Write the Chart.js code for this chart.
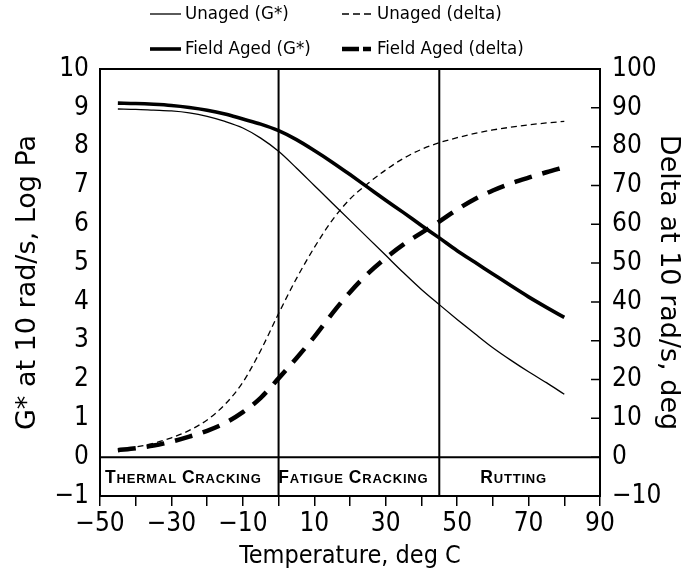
<!DOCTYPE html>
<html>
<head>
<meta charset="utf-8">
<script src="https://cdn.jsdelivr.net/npm/chart.js@4.4.1/dist/chart.umd.min.js"></script>
<style>
  html, body { margin: 0; padding: 0; background: #fff; }
  #wrap { width: 686px; height: 573px; }
</style>
</head>
<body>
<div id="wrap"><canvas id="c" width="686" height="573"></canvas></div>
<script>
// ---- data ----
const temperatures = [-45,-40,-35,-30,-25,-20,-15,-10,-5,0,5,10,15,20,25,30,35,40,45,50,55,60,65,70,75,80];
const unagedG     = [8.97,8.96,8.94,8.92,8.87,8.78,8.65,8.48,8.22,7.88,7.45,7.00,6.55,6.10,5.65,5.20,4.75,4.32,3.93,3.55,3.18,2.82,2.50,2.20,1.92,1.62];
const agedG       = [9.12,9.11,9.09,9.06,9.01,8.94,8.84,8.71,8.58,8.41,8.18,7.90,7.60,7.28,6.95,6.62,6.30,5.97,5.65,5.32,5.02,4.72,4.42,4.13,3.86,3.60];
const unagedDelta = [1.8,2.6,3.6,5.0,6.9,9.6,13.6,19.3,27.5,37,46,54,61,66.5,70.5,74,77,79.3,81,82.3,83.4,84.3,85,85.6,86.1,86.5];
const agedDelta   = [1.8,2.3,3.0,4.0,5.3,6.8,8.8,11.6,15.3,20.3,25.5,31,37,42.5,47.3,51.3,54.8,57.8,60.7,63.8,66.5,68.7,70.5,72,73.4,74.7];
const seriesNames = ['Unaged (G*)', 'Unaged (delta)', 'Field Aged (G*)', 'Field Aged (delta)'];
const regionBounds = [-50, 0, 45, 90];
const regionNames = ['Thermal Cracking', 'Fatigue Cracking', 'Rutting'];
const xTicksRange = [-50, 90];
const yLeftRange = [-1, 10];
const yRightRange = [-10, 100];

const NARROW = "'Liberation Sans Narrow', 'DejaVu Sans Condensed', 'Liberation Sans', sans-serif";
const WIDE = "'DejaVu Sans', 'Liberation Sans', sans-serif";

function pts(vals) { return temperatures.map((t, i) => ({ x: t, y: vals[i] })); }
function minus(v) { return v < 0 ? '\u2212' + Math.abs(v) : String(v); }

const datasets = [
  { label: seriesNames[0], data: pts(unagedG), yAxisID: 'y', borderColor: '#000', borderWidth: 1.3, legendDash: [] },
  { label: seriesNames[1], data: pts(unagedDelta), yAxisID: 'y2', borderColor: '#000', borderWidth: 1.3, borderDash: [6, 4], legendDash: [7, 4] },
  { label: seriesNames[2], data: pts(agedG), yAxisID: 'y', borderColor: '#000', borderWidth: 3.6, legendDash: [] },
  { label: seriesNames[3], data: pts(agedDelta), yAxisID: 'y2', borderColor: '#000', borderWidth: 4.5, borderDash: [18, 11], legendDash: [17, 4, 8, 40] }
].map(d => Object.assign({ pointRadius: 0, fill: false, cubicInterpolationMode: 'monotone', borderCapStyle: 'butt' }, d));

const overlay = {
  id: 'overlay',
  afterDraw(chart) {
    const { ctx, chartArea: a, scales } = chart;
    const x = scales.x, y = scales.y, y2 = scales.y2;
    ctx.save();
    ctx.strokeStyle = '#000';
    ctx.lineWidth = 2;
    ctx.beginPath();
    // top border of frame
    ctx.moveTo(a.left, a.top); ctx.lineTo(a.right, a.top);
    // region boundaries
    regionBounds.slice(1, -1).forEach(t => {
      const px = x.getPixelForValue(t);
      ctx.moveTo(px, a.top); ctx.lineTo(px, a.bottom);
    });
    // zero line
    const py0 = y.getPixelForValue(0);
    ctx.moveTo(a.left, py0); ctx.lineTo(a.right, py0);
    ctx.stroke();
    // inward ticks on the right axis
    ctx.lineWidth = 1.5;
    ctx.beginPath();
    y2.ticks.forEach(tk => {
      const p = y2.getPixelForValue(tk.value);
      ctx.moveTo(a.right, p); ctx.lineTo(a.right - 9, p);
    });
    ctx.stroke();

    // region labels in small caps
    ctx.fillStyle = '#000';
    ctx.textBaseline = 'alphabetic';
    const big = "bold 17.5px 'Liberation Sans', Arial, sans-serif";
    const small = "bold 13px 'Liberation Sans', Arial, sans-serif";
    const baseY = (y.getPixelForValue(0) + y.getPixelForValue(-1)) / 2 + 6;
    const spacing = 0.8;
    regionNames.forEach((name, i) => {
      const parts = [];
      name.split(' ').forEach((w, wi) => {
        if (wi > 0) parts.push({ t: ' ', f: small, gap: 5 });
        parts.push({ t: w[0].toUpperCase(), f: big });
        parts.push({ t: w.slice(1).toUpperCase(), f: small });
      });
      let width = 0;
      parts.forEach(p => {
        ctx.font = p.f;
        p.w = p.gap !== undefined ? p.gap : ctx.measureText(p.t).width + spacing * p.t.length;
        width += p.w;
      });
      const cx = (x.getPixelForValue(regionBounds[i]) + x.getPixelForValue(regionBounds[i + 1])) / 2 - 6;
      let px = cx - width / 2;
      parts.forEach(p => {
        ctx.font = p.f;
        if (p.gap === undefined) {
          for (const ch of p.t) {
            ctx.fillText(ch, px, baseY);
            px += ctx.measureText(ch).width + spacing;
          }
        } else {
          px += p.w;
        }
      });
    });

    // legend (two columns, two rows)
    const cols = [150, 342];
    const rows = [14, 49];
    ctx.font = "18.5px " + NARROW;
    ctx.textBaseline = 'middle';
    chart.data.datasets.forEach((d, i) => {
      const cx = cols[i % 2], cy = rows[Math.floor(i / 2)];
      ctx.beginPath();
      ctx.lineWidth = d.borderWidth;
      ctx.setLineDash(d.legendDash);
      ctx.moveTo(cx, cy); ctx.lineTo(cx + 31, cy);
      ctx.stroke();
      ctx.setLineDash([]);
      ctx.fillText(d.label, cx + 35, cy);
    });
    ctx.restore();
  }
};

new Chart(document.getElementById('c'), {
  type: 'line',
  data: { datasets },
  plugins: [overlay],
  options: {
    responsive: false,
    animation: false,
    layout: { padding: { top: 69, left: 0, right: 0, bottom: 0 } },
    plugins: { legend: { display: false }, tooltip: { enabled: false } },
    scales: {
      x: {
        type: 'linear', min: xTicksRange[0], max: xTicksRange[1],
        afterFit(s) { s.height = 77; },
        ticks: {
          stepSize: 10, color: '#000', padding: 3, maxRotation: 0, autoSkip: false,
          font: { family: NARROW, size: 26 },
          callback: v => ((v - xTicksRange[0]) % 20 === 0 ? minus(v) : '')
        },
        grid: { drawOnChartArea: false, drawTicks: true, tickLength: 10, color: '#000', lineWidth: 1.5 },
        border: { display: true, color: '#000', width: 2 },
        title: { display: true, text: 'Temperature, deg C', color: '#000', font: { family: NARROW, size: 25 }, padding: { top: 0, bottom: 2 } }
      },
      y: {
        type: 'linear', position: 'left', min: yLeftRange[0], max: yLeftRange[1],
        afterFit(s) { s.width = 100; },
        ticks: { stepSize: 1, color: '#000', padding: 11, font: { family: NARROW, size: 26 }, callback: v => minus(v) },
        grid: { drawOnChartArea: false, drawTicks: false },
        border: { display: true, color: '#000', width: 2 },
        title: { display: true, text: 'G* at 10 rad/s, Log Pa', color: '#000', font: { family: WIDE, size: 27 }, padding: { top: 12, bottom: 0 } }
      },
      y2: {
        type: 'linear', position: 'right', min: yRightRange[0], max: yRightRange[1],
        afterFit(s) { s.width = 86; },
        ticks: { stepSize: 5, color: '#000', padding: 12, font: { family: NARROW, size: 26 }, callback: v => (v % 10 === 0 ? minus(v) : '') },
        grid: { drawOnChartArea: false, drawTicks: false },
        border: { display: true, color: '#000', width: 2 },
        title: { display: true, text: 'Delta at 10 rad/s, deg', color: '#000', font: { family: WIDE, size: 27 }, padding: { top: 2, bottom: 0 } }
      }
    }
  }
});
</script>
</body>
</html>
